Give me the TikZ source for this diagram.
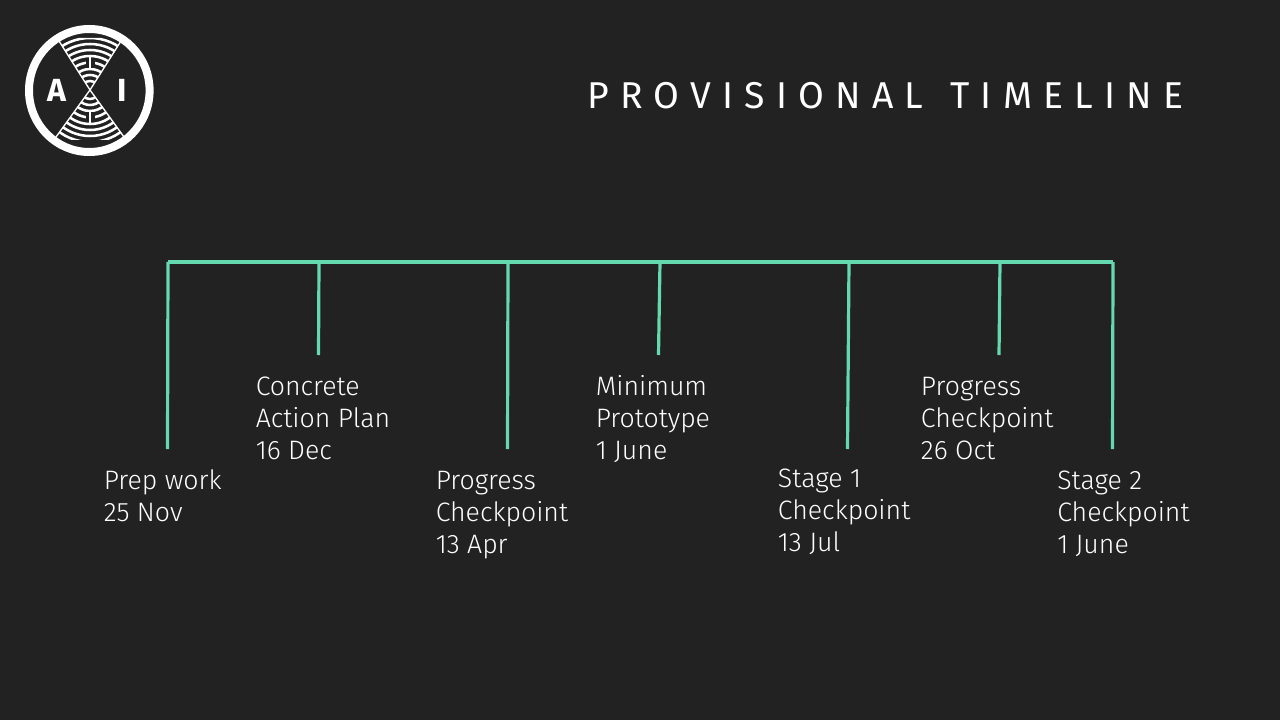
\documentclass[tikz,border=0pt]{standalone}
\usepackage{fontspec}
\setmainfont{Fira Sans Light}
\newfontfamily\titlefont{Fira Sans}
\newfontfamily\spacedfont[LetterSpace=30]{Fira Sans}
\newcommand{\fl}{\rule{0pt}{20pt}}
\definecolor{bgc}{HTML}{222222}
\definecolor{mint}{HTML}{64D8AE}
\tikzset{
  stem/.style={draw=mint,line width=2.4pt},
  lab/.style={text=white,anchor=north west,align=left,inner sep=0pt,font=\fontsize{20}{24}\selectfont},
  band/.style={draw=white,line width=1.9pt},
  logotext/.style={text=white,inner sep=0pt,font=\titlefont\fontsize{24}{26}\selectfont\bfseries}
}
\begin{document}
\begin{tikzpicture}[x=0.75pt,y=-0.75pt]
\useasboundingbox (0,0) rectangle (1280,720);
\fill[bgc] (0,0) rectangle (1280,720);
% logo
\draw[white,line width=6pt] (89.3,90.5) ellipse [x radius=60.3,y radius=61.5];
\begin{scope}
\clip (57,38) -- (123,38) -- (90,90) -- (126,140) -- (54,140) -- (90,90) -- cycle;
\foreach \r in {9,15,21,34,40,46,52} {\draw[band] (90,90) circle [radius=\r];}
\draw[band] (90,90) circle [radius=27.5];
\fill[bgc] (85.5,58) rectangle (94.5,68);
\fill[bgc] (85.5,112) rectangle (94.5,122);
\draw[band] (90,56) -- (90,69);
\draw[band] (90,111) -- (90,124);
\end{scope}
\draw[white,line width=1pt] (59,41) -- (90,90) -- (121,41);
\draw[white,line width=1pt] (56,137) -- (90,90) -- (124,137);
\node[logotext] (logoA) at (56.5,90) {A};
\node[logotext] (logoI) at (121.7,90) {I};
% title
\node[text=white,anchor=west,inner sep=0pt,font=\spacedfont\fontsize{28}{32}\selectfont] (title) at (587,96) {PROVISIONAL\hspace{4.5pt} TIMELINE};
% timeline
\coordinate (s0) at (168,262); \coordinate (e0) at (167.5,449);
\coordinate (s1) at (319,262); \coordinate (e1) at (318.5,355);
\coordinate (s2) at (508,262); \coordinate (e2) at (507.5,449);
\coordinate (s3) at (660,262); \coordinate (e3) at (658.5,355);
\coordinate (s4) at (849,262); \coordinate (e4) at (847.5,449);
\coordinate (s5) at (1000,262); \coordinate (e5) at (999,355);
\coordinate (s6) at (1113,262); \coordinate (e6) at (1112.5,449);
\draw[stem] (s0) -- (s6);
\foreach \i in {0,...,6} {\draw[stem] (s\i) -- (e\i);}
\node[lab] (t0) at (103.5,462.5) {\fl Prep work\\25 Nov};
\node[lab] (t1) at (255.5,368.3) {\fl Concrete\\Action Plan\\16 Dec};
\node[lab] (t2) at (435.5,462.5) {\fl Progress\\Checkpoint\\13 Apr};
\node[lab] (t3) at (595.5,368.3) {\fl Minimum\\Prototype\\1 June};
\node[lab] (t4) at (777.7,461) {\fl Stage 1\\Checkpoint\\13 Jul};
\node[lab] (t5) at (920.7,368.3) {\fl Progress\\Checkpoint\\26 Oct};
\node[lab] (t6) at (1057,462.5) {\fl Stage 2\\Checkpoint\\1 June};
\end{tikzpicture}
\end{document}
